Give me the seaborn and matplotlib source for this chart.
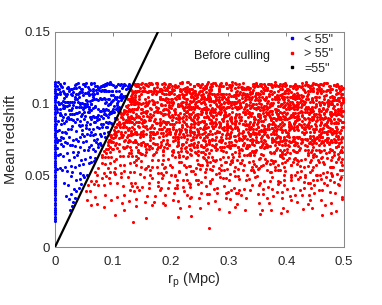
import numpy as np
import pandas as pd
import matplotlib
matplotlib.use("Agg")
import matplotlib.pyplot as plt
import seaborn as sns
from matplotlib.lines import Line2D

# r_p in units of 0.001 Mpc, mean redshift in units of 0.0005
red_rp = [
    152, 247, 389, 213, 466, 331, 278, 492, 185, 356,
    318, 171, 423, 264, 207, 447, 375, 139, 291, 401,
    236, 482, 163, 344, 419, 295, 258, 370, 198, 437,
    407, 222, 305, 144, 479, 363, 189, 252, 338, 461,
    274, 398, 156, 441, 229, 317, 486, 202, 383, 347,
    193, 361, 432, 283, 142, 496, 240, 326, 412, 268,
    455, 216, 349, 177, 302, 395, 261, 474, 148, 381,
    336, 287, 168, 426, 241, 379, 453, 199, 311, 225,
    208, 471, 392, 138, 357, 262, 434, 323, 184, 498,
    369, 251, 447, 301, 161, 415, 230, 342, 476, 276,
    182, 427, 313, 256, 488, 143, 365, 219, 399, 334,
    444, 298, 174, 385, 232, 459, 321, 158, 406, 270,
    245, 352, 478, 197, 413, 287, 141, 366, 306, 438,
    327, 166, 259, 493, 373, 211, 450, 284, 190, 402,
    418, 237, 345, 151, 297, 464, 388, 226, 333, 176,
    287, 145, 402, 233, 361, 479, 198, 316, 254, 437,
    172, 384, 269, 451, 137, 305, 226, 493, 348, 411,
    429, 262, 185, 337, 214, 468, 299, 153, 376, 243,
    351, 494, 220, 166, 413, 281, 445, 239, 324, 133,
    206, 327, 459, 390, 258, 175, 341, 421, 140, 283,
    468, 231, 314, 146, 372, 254, 197, 486, 403, 328,
    159, 417, 290, 363, 487, 218, 332, 267, 446, 181,
    393, 201, 356, 272, 149, 433, 310, 182, 457, 246,
    275, 343, 131, 476, 229, 398, 163, 355, 289, 420,
    441, 188, 264, 320, 396, 156, 482, 237, 211, 367,
    310, 460, 203, 139, 284, 352, 427, 193, 379, 248,
    177, 253, 405, 332, 465, 225, 296, 144, 418, 358,
    386, 134, 346, 438, 192, 270, 489, 313, 235, 161,
    222, 471, 169, 279, 338, 414, 251, 392, 150, 305,
    453, 308, 243, 191, 425, 135, 371, 265, 497, 216,
    338, 127, 259, 486, 392, 204, 445, 171, 313, 276,
    214, 462, 351, 148, 289, 407, 236, 375, 130, 494,
    401, 295, 182, 368, 447, 263, 138, 324, 219, 473,
    167, 348, 433, 223, 305, 491, 380, 196, 256, 415,
    452, 239, 126, 397, 331, 177, 284, 466, 362, 208,
    292, 419, 203, 478, 155, 342, 247, 386, 499, 136,
    381, 158, 317, 266, 424, 215, 470, 299, 187, 343,
    231, 364, 489, 142, 273, 437, 320, 200, 408, 158,
    479, 283, 374, 253, 192, 355, 129, 441, 226, 315,
    145, 410, 227, 336, 483, 268, 393, 162, 300, 457,
    367, 190, 444, 301, 240, 133, 412, 353, 278, 499,
    258, 326, 161, 429, 377, 482, 205, 244, 139, 391,
    416, 474, 293, 185, 222, 396, 346, 131, 459, 268,
    197, 245, 403, 357, 135, 311, 481, 270, 384, 218,
    328, 139, 261, 449, 406, 181, 234, 427, 310, 365,
    264, 413, 129, 357, 488, 206, 322, 441, 183, 295,
    376, 148, 239, 469, 301, 421, 192, 340, 257, 120,
    195, 329, 452, 271, 137, 386, 490, 218, 405, 312,
    438, 253, 166, 398, 224, 344, 278, 125, 463, 365,
    309, 481, 372, 142, 426, 262, 199, 355, 236, 417,
    151, 286, 397, 333, 472, 121, 249, 430, 314, 208,
    420, 176, 307, 243, 367, 458, 134, 285, 389, 496,
    228, 445, 269, 188, 318, 403, 360, 156, 477, 257,
    347, 212, 491, 419, 160, 290, 231, 382, 123, 436,
    482, 361, 140, 225, 411, 336, 447, 201, 273, 171,
    132, 394, 320, 457, 246, 179, 499, 288, 352, 414,
    290, 235, 466, 164, 383, 214, 315, 428, 144, 374,
    406, 317, 187, 281, 128, 474, 243, 348, 460, 197,
    255, 159, 434, 372, 299, 399, 127, 221, 330, 485,
    371, 493, 213, 136, 444, 262, 409, 175, 286, 340,
    198, 341, 467, 124, 283, 409, 235, 372, 156, 494,
    433, 265, 117, 386, 319, 208, 478, 149, 352, 241,
    305, 451, 227, 169, 398, 282, 135, 424, 361, 190,
    140, 378, 296, 443, 215, 487, 336, 252, 114, 415,
    397, 203, 359, 273, 462, 131, 248, 318, 439, 177,
    262, 485, 165, 334, 120, 421, 299, 197, 376, 448,
    476, 126, 412, 229, 351, 268, 453, 384, 183, 305,
    219, 313, 441, 153, 278, 366, 116, 490, 254, 407,
    355, 172, 257, 400, 495, 223, 337, 144, 431, 292,
    118, 428, 344, 490, 189, 306, 405, 270, 221, 365,
    416, 245, 135, 311, 369, 458, 209, 477, 328, 160,
    286, 390, 475, 212, 145, 262, 385, 329, 196, 437,
    157, 338, 234, 465, 419, 113, 353, 240, 473, 301,
    446, 276, 386, 128, 232, 395, 181, 314, 420, 248,
    329, 205, 158, 371, 458, 294, 427, 134, 263, 383,
    312, 164, 437, 251, 389, 108, 478, 226, 345, 193,
    227, 406, 132, 369, 291, 459, 183, 320, 497, 262,
    450, 297, 215, 121, 335, 418, 260, 382, 174, 499,
    146, 358, 486, 279, 203, 144, 397, 305, 431, 239,
    391, 240, 321, 468, 110, 273, 351, 192, 416, 289,
    279, 423, 171, 343, 445, 220, 128, 374, 258, 482,
    186, 312, 404, 235, 490, 363, 298, 141, 454, 332,
    465, 133, 267, 414, 181, 329, 236, 493, 387, 206,
    337, 482, 248, 155, 302, 440, 373, 270, 119, 413,
    122, 286, 379, 451, 224, 398, 167, 344, 285, 475,
    404, 209, 118, 326, 472, 257, 425, 213, 360, 151,
    257, 371, 439, 188, 350, 126, 307, 447, 195, 394,
    173, 461, 297, 383, 243, 490, 214, 136, 328, 427,
    375, 245, 154, 436, 311, 182, 463, 392, 270, 112,
    233, 381, 104, 459, 297, 170, 412, 326, 258, 488,
    418, 153, 342, 216, 476, 285, 393, 122, 364, 247,
    138, 305, 470, 389, 247, 427, 176, 283, 495, 204,
    361, 492, 226, 112, 334, 198, 451, 408, 268, 315,
    277, 185, 433, 356, 141, 379, 306, 233, 463, 117,
    482, 339, 261, 199, 414, 106, 348, 470, 180, 292,
    164, 435, 371, 302, 218, 486, 132, 257, 391, 442,
    325, 214, 118, 448, 384, 289, 237, 166, 418, 353,
    446, 271, 197, 337, 155, 462, 404, 316, 226, 109,
    205, 398, 476, 128, 291, 352, 241, 433, 148, 368,
    399, 126, 312, 247, 497, 184, 427, 361, 273, 210,
    251, 457, 158, 419, 343, 235, 102, 301, 480, 378,
    134, 317, 284, 487, 226, 405, 366, 192, 259, 440,
    472, 229, 407, 165, 376, 298, 145, 449, 335, 281,
    287, 140, 396, 223, 461, 332, 97, 375, 254, 419,
    172, 448, 309, 267, 118, 487, 213, 353, 405, 340,
    436, 246, 184, 397, 327, 157, 478, 289, 103, 366,
    311, 379, 462, 135, 238, 413, 346, 192, 497, 265,
    208, 115, 344, 441, 276, 368, 153, 427, 316, 479,
    390, 299, 229, 490, 169, 256, 412, 132, 358, 204,
    126, 471, 263, 352, 423, 193, 301, 386, 240, 445,
    467, 328, 153, 211, 384, 96, 449, 272, 186, 318,
    239, 403, 495, 296, 142, 338, 221, 458, 375, 110,
    348, 180, 421, 106, 325, 470, 285, 164, 433, 257,
    414, 262, 199, 383, 249, 147, 362, 493, 128, 303,
    165, 357, 276, 453, 482, 214, 124, 339, 401, 236,
    302, 496, 376, 173, 218, 430, 262, 101, 311, 457,
    198, 352, 117, 426, 271, 489, 305, 234, 390, 160,
    363, 246, 439, 182, 97, 318, 466, 287, 143, 405,
    275, 494, 208, 340, 414, 126, 256, 381, 457, 194,
    452, 130, 312, 267, 369, 222, 93, 428, 336, 479,
    121, 387, 471, 219, 293, 358, 441, 165, 248, 314,
    333, 205, 152, 490, 416, 277, 192, 347, 105, 432,
    407, 298, 365, 138, 231, 448, 326, 492, 266, 178,
    240, 461, 283, 398, 156, 100, 372, 213, 484, 345,
    176, 323, 420, 301, 462, 241, 135, 403, 357, 91,
    485, 149, 239, 375, 327, 393, 286, 111, 211, 436,
    302, 418, 97, 252, 184, 474, 447, 338, 383, 262,
    226, 366, 343, 444, 124, 212, 310, 259, 169, 497,
    312, 157, 448, 236, 95, 379, 270, 493, 193, 341,
    225, 401, 132, 357, 466, 289, 418, 176, 84, 318,
    437, 278, 366, 111, 205, 475, 149, 332, 252, 390,
    143, 489, 256, 424, 338, 187, 301, 457, 372, 100,
    354, 218, 92, 296, 392, 143, 478, 244, 411, 167,
    474, 330, 187, 406, 162, 259, 345, 123, 287, 443,
    261, 128, 413, 317, 483, 362, 213, 396, 99, 233,
    398, 444, 303, 174, 247, 432, 89, 280, 363, 496,
    186, 276, 469, 383, 120, 319, 234, 458, 151, 346,
    321, 379, 228, 495, 423, 108, 392, 202, 266, 140,
    286, 133, 421, 208, 359, 477, 92, 315, 248, 394,
    169, 443, 264, 381, 81, 327, 496, 221, 405, 141,
    402, 229, 337, 460, 187, 112, 276, 438, 353, 299,
    97, 367, 489, 155, 246, 415, 344, 290, 178, 451,
    333, 257, 118, 426, 304, 196, 462, 374, 86, 236,
    455, 186, 392, 274, 127, 342, 226, 483, 308, 413,
    214, 306, 471, 338, 433, 82, 167, 256, 389, 149,
    378, 480, 202, 106, 355, 271, 419, 140, 446, 323,
    144, 389, 261, 492, 215, 447, 318, 364, 102, 278,
    231, 378, 104, 452, 295, 167, 419, 340, 486, 263,
    412, 190, 327, 75, 248, 463, 356, 129, 288, 397,
    149, 466, 268, 385, 203, 320, 91, 441, 234, 497,
    359, 283, 437, 218, 481, 140, 306, 372, 177, 95,
    263, 120, 392, 311, 158, 424, 250, 479, 345, 214,
    478, 336, 185, 431, 365, 244, 113, 294, 408, 161,
    302, 447, 224, 137, 273, 398, 476, 199, 82, 353,
    188, 254, 494, 347, 409, 87, 226, 322, 457, 381,
    178, 326, 453, 102, 269, 397, 214, 488, 343, 137,
    366, 243, 69, 415, 310, 156, 478, 287, 192, 432,
    452, 120, 298, 373, 227, 493, 165, 339, 84, 259,
    215, 408, 184, 272, 459, 96, 352, 426, 303, 381,
    317, 470, 386, 147, 201, 284, 441, 73, 239, 164,
    104, 292, 235, 479, 390, 332, 130, 250, 418, 463,
    398, 187, 344, 261, 115, 444, 279, 372, 496, 208,
    247, 409, 132, 336, 480, 198, 291, 63, 375, 446,
    154, 362, 271, 437, 93, 316, 222, 495, 408, 179,
    430, 82, 207, 301, 385, 468, 139, 259, 330, 493,
    319, 231, 476, 114, 253, 397, 350, 185, 71, 424,
    88, 453, 346, 269, 163, 228, 421, 389, 296, 126,
    372, 286, 167, 482, 433, 108, 244, 311, 460, 211,
    196, 341, 457, 118, 268, 402, 74, 310, 489, 233,
    385, 163, 292, 424, 57, 354, 211, 470, 142, 327,
    275, 448, 96, 368, 207, 492, 318, 247, 431, 179,
    134, 304, 412, 233, 376, 151, 466, 85, 281, 396,
    441, 222, 353, 184, 129, 443, 262, 359, 211, 67,
    229, 384, 108, 317, 462, 173, 280, 415, 61, 351,
    137, 439, 253, 496, 206, 338, 87, 393, 267, 160,
    406, 295, 182, 359, 120, 475, 236, 53, 322, 448,
    313, 70, 427, 223, 378, 263, 145, 484, 191, 300,
    156, 302, 438, 97, 249, 371, 205, 478, 331, 128,
    392, 186, 56, 315, 460, 234, 419, 140, 277, 353,
    264, 441, 367, 213, 116, 497, 72, 296, 171, 409,
    283, 141, 402, 216, 467, 329, 84, 373, 190, 445,
    167, 358, 251, 486, 312, 62, 429, 232, 395, 120,
    235, 391, 158, 462, 301, 104, 355, 213, 478, 135,
    266,
    196, 342, 417, 158, 283, 469, 229, 374, 311, 490,
    263, 147, 398, 327, 441, 208, 354, 172, 483, 240,
    429, 302, 188, 255, 360, 137, 475, 217, 392, 336,
    348, 456, 271, 412, 165, 323, 248, 435, 203, 389,
    154, 380, 233, 495, 296, 416, 181, 345, 270, 461,
    306, 219, 452, 176, 403, 261, 367, 143, 427, 285,
    318, 175, 436, 249, 392, 131, 287, 463, 214, 359,
    142, 411, 266, 335, 488, 197, 373, 236, 454, 301,
    380, 228, 497, 163, 310, 447, 256, 402, 185, 332,
    473, 291, 347, 420, 138, 267, 199, 365, 313, 241,
    224, 359, 152, 282, 431, 341, 476, 168, 398, 277,
    409, 134, 315, 206, 371, 494, 242, 326, 444, 180,
    267, 412, 153, 339, 479, 221, 386, 132, 302, 445,
    395, 244, 328, 171, 426, 283, 492, 353, 210, 137,
    184, 466, 297, 422, 257, 363, 129, 238, 488, 314,
    341, 200, 451, 275, 388, 146, 331, 473, 169, 412,
    456, 318, 229, 137, 293, 434, 372, 194, 347, 252,
    226, 375, 498, 306, 161, 249, 418, 282, 138, 397,
    352, 197, 468, 284, 126, 403, 241, 330, 489, 175,
    219, 432, 143, 376, 297, 471, 185, 262, 405, 338,
    457, 316, 254, 190, 442, 123, 366, 479, 228, 293,
    137, 381, 425, 327, 212, 270, 449, 158, 359, 495,
    288, 246, 361, 463, 170, 339, 120, 418, 203, 384,
    414, 159, 305, 232, 385, 494, 276, 351, 131, 451,
    243, 389, 127, 456, 312, 178, 421, 268, 354, 491,
    402, 166, 287, 215, 477, 339, 119, 444, 253, 370,
    131, 448, 363, 294, 199, 412, 246, 152, 485, 321,
    325, 274, 481, 145, 392, 232, 466, 303, 187, 428,
    467, 207, 334, 408, 261, 115, 379, 227, 436, 162,
    188, 355, 239, 497, 141, 293, 413, 351, 274, 216,
    283, 137, 397, 221, 459, 346, 176, 492, 312, 248,
    163, 423, 305, 381, 110, 268, 447, 199, 356, 471,
    369, 254, 478, 148, 331, 203, 415, 290, 124, 438,
    441, 318, 190, 467, 237, 389, 153, 343, 276, 108,
    226, 487, 352, 272, 402, 129, 298, 461, 181, 325,
    313, 182, 432, 117, 285, 496, 240, 378, 419, 154,
    198, 352, 466, 273, 121, 409, 316, 234, 487, 159,
    437, 281, 143, 393, 225, 356, 104, 462, 311, 256,
    305, 172, 421, 498, 359, 264, 193, 385, 137, 448,
    153, 404, 336, 209, 473, 115, 376, 283, 430, 241,
    382, 246, 188, 330, 443, 297, 477, 126, 219, 364,
    259, 469, 292, 414, 166, 338, 216, 452, 369, 106,
    347, 208, 425, 132, 289, 481, 251, 374, 170, 446,
    266, 453, 318, 399, 186, 97, 431, 229, 367, 490,
    412, 151, 244, 335, 470, 379, 116, 297, 441, 213,
    176, 389, 487, 258, 115, 322, 403, 193, 279, 362,
    473, 303, 382, 223, 346, 458, 164, 419, 102, 271,
    234, 128, 337, 462, 397, 207, 296, 489, 324, 147,
    279, 412, 163, 348, 226, 457, 104, 385, 301, 492,
    141, 326, 471, 245, 398, 183, 357, 436, 92, 267,
    364, 475, 212, 129, 306, 409, 262, 186, 447, 333,
    428, 197, 294, 381, 463, 252, 138, 317, 236, 404,
    213, 359, 441, 173, 95, 341, 486, 272, 378, 155,
    486, 258, 120, 416, 335, 220, 393, 149, 289, 463,
    227, 384, 131, 452, 306, 189, 417, 263, 95, 348,
    401, 158, 276, 335, 479, 242, 119, 373, 204, 461,
    172, 437, 342, 218, 392, 88, 290, 486, 324, 147,
]
red_z = [
    223, 227, 220, 225, 229, 221, 226, 222, 228, 224,
    228, 222, 225, 230, 226, 229, 223, 227, 224, 221,
    221, 226, 229, 224, 222, 227, 220, 228, 223, 225,
    225, 220, 223, 228, 221, 224, 229, 226, 222, 227,
    229, 224, 227, 222, 230, 223, 225, 221, 226, 228,
    222, 228, 226, 221, 227, 220, 224, 229, 225, 223,
    226, 221, 224, 229, 223, 228, 222, 225, 227, 230,
    220, 225, 228, 223, 224, 226, 221, 227, 229, 222,
    224, 229, 221, 226, 228, 225, 227, 223, 220, 222,
    227, 223, 222, 226, 225, 228, 230, 224, 221, 229,
    221, 225, 228, 222, 227, 224, 220, 229, 226, 223,
    226, 222, 229, 224, 221, 227, 223, 228, 225, 220,
    228, 224, 221, 227, 223, 229, 225, 222, 230, 226,
    222, 229, 225, 220, 226, 223, 228, 224, 227, 221,
    225, 221, 227, 229, 222, 226, 224, 220, 223, 228,
    213, 217, 210, 215, 219, 211, 216, 212, 218, 214,
    218, 212, 215, 210, 216, 219, 213, 217, 214, 211,
    211, 216, 219, 214, 212, 217, 210, 218, 213, 215,
    215, 210, 213, 218, 211, 214, 219, 216, 212, 217,
    219, 214, 217, 212, 210, 213, 215, 211, 216, 218,
    212, 218, 216, 211, 217, 210, 214, 219, 215, 213,
    216, 211, 214, 219, 213, 218, 212, 215, 217, 210,
    210, 215, 218, 213, 214, 216, 211, 217, 219, 212,
    214, 219, 211, 216, 218, 215, 217, 213, 210, 212,
    217, 213, 212, 216, 215, 218, 210, 214, 211, 219,
    211, 215, 218, 212, 217, 214, 210, 219, 216, 213,
    216, 212, 219, 214, 211, 217, 213, 218, 215, 210,
    218, 214, 211, 217, 213, 219, 215, 212, 210, 216,
    212, 219, 215, 210, 216, 213, 218, 214, 217, 211,
    215, 211, 217, 219, 212, 216, 214, 210, 213, 218,
    203, 207, 200, 205, 209, 201, 206, 202, 208, 204,
    208, 202, 205, 200, 206, 209, 203, 207, 204, 201,
    201, 206, 209, 204, 202, 207, 200, 208, 203, 205,
    205, 200, 203, 208, 201, 204, 209, 206, 202, 207,
    209, 204, 207, 202, 200, 203, 205, 201, 206, 208,
    202, 208, 206, 201, 207, 200, 204, 209, 205, 203,
    206, 201, 204, 209, 203, 208, 202, 205, 207, 200,
    200, 205, 208, 203, 204, 206, 201, 207, 209, 202,
    204, 209, 201, 206, 208, 205, 207, 203, 200, 202,
    207, 203, 202, 206, 205, 208, 200, 204, 201, 209,
    201, 205, 208, 202, 207, 204, 200, 209, 206, 203,
    206, 202, 209, 204, 201, 207, 203, 208, 205, 200,
    208, 204, 201, 207, 203, 209, 205, 202, 200, 206,
    202, 209, 205, 200, 206, 203, 208, 204, 207, 201,
    205, 201, 207, 209, 202, 206, 204, 200, 203, 208,
    193, 197, 190, 195, 199, 191, 196, 192, 198, 194,
    198, 192, 195, 190, 196, 199, 193, 197, 194, 191,
    191, 196, 199, 194, 192, 197, 190, 198, 193, 195,
    195, 190, 193, 198, 191, 194, 199, 196, 192, 197,
    199, 194, 197, 192, 190, 193, 195, 191, 196, 198,
    192, 198, 196, 191, 197, 190, 194, 199, 195, 193,
    196, 191, 194, 199, 193, 198, 192, 195, 197, 190,
    190, 195, 198, 193, 194, 196, 191, 197, 199, 192,
    194, 199, 191, 196, 198, 195, 197, 193, 190, 192,
    197, 193, 192, 196, 195, 198, 190, 194, 191, 199,
    191, 195, 198, 192, 197, 194, 190, 199, 196, 193,
    196, 192, 199, 194, 191, 197, 193, 198, 195, 190,
    198, 194, 191, 197, 193, 199, 195, 192, 190, 196,
    192, 199, 195, 190, 196, 193, 198, 194, 197, 191,
    195, 191, 197, 199, 192, 196, 194, 190, 193, 198,
    183, 187, 180, 185, 189, 181, 186, 182, 188, 184,
    188, 182, 185, 180, 186, 189, 183, 187, 184, 181,
    181, 186, 189, 184, 182, 187, 180, 188, 183, 185,
    185, 180, 183, 188, 181, 184, 189, 186, 182, 187,
    189, 184, 187, 182, 180, 183, 185, 181, 186, 188,
    182, 188, 186, 181, 187, 180, 184, 189, 185, 183,
    186, 181, 184, 189, 183, 188, 182, 185, 187, 180,
    180, 185, 188, 183, 184, 186, 181, 187, 189, 182,
    184, 189, 181, 186, 188, 185, 187, 183, 180, 182,
    187, 183, 182, 186, 185, 188, 180, 184, 181, 189,
    181, 185, 188, 182, 187, 184, 180, 189, 186, 183,
    186, 182, 189, 184, 181, 187, 183, 188, 185, 180,
    188, 184, 181, 187, 183, 189, 185, 182, 180, 186,
    182, 189, 185, 180, 186, 183, 188, 184, 187, 181,
    185, 181, 187, 189, 182, 186, 184, 180, 183, 188,
    173, 177, 170, 175, 179, 171, 176, 172, 178, 174,
    178, 172, 175, 170, 176, 179, 173, 177, 174, 171,
    171, 176, 179, 174, 172, 177, 170, 178, 173, 175,
    175, 170, 173, 178, 171, 174, 179, 176, 172, 177,
    179, 174, 177, 172, 170, 173, 175, 171, 176, 178,
    172, 178, 176, 171, 177, 170, 174, 179, 175, 173,
    176, 171, 174, 179, 173, 178, 172, 175, 177, 170,
    170, 175, 178, 173, 174, 176, 171, 177, 179, 172,
    174, 179, 171, 176, 178, 175, 177, 173, 170, 172,
    177, 173, 172, 176, 175, 178, 170, 174, 171, 179,
    171, 175, 178, 172, 177, 174, 170, 179, 176, 173,
    176, 172, 179, 174, 171, 177, 173, 178, 175, 170,
    178, 174, 171, 177, 173, 179, 175, 172, 170, 176,
    172, 179, 175, 170, 176, 173, 178, 174, 177, 171,
    163, 167, 160, 165, 169, 161, 166, 162, 168, 164,
    168, 162, 165, 160, 166, 169, 163, 167, 164, 161,
    161, 166, 169, 164, 162, 167, 160, 168, 163, 165,
    165, 160, 163, 168, 161, 164, 169, 166, 162, 167,
    169, 164, 167, 162, 160, 163, 165, 161, 166, 168,
    162, 168, 166, 161, 167, 160, 164, 169, 165, 163,
    166, 161, 164, 169, 163, 168, 162, 165, 167, 160,
    160, 165, 168, 163, 164, 166, 161, 167, 169, 162,
    164, 169, 161, 166, 168, 165, 167, 163, 160, 162,
    167, 163, 162, 166, 165, 168, 160, 164, 161, 169,
    161, 165, 168, 162, 167, 164, 160, 169, 166, 163,
    166, 162, 169, 164, 161, 167, 163, 168, 165, 160,
    168, 164, 161, 167, 163, 169, 165, 162, 160, 166,
    162, 169, 165, 160, 166, 163, 168, 164, 167, 161,
    153, 157, 150, 155, 159, 151, 156, 152, 158, 154,
    158, 152, 155, 150, 156, 159, 153, 157, 154, 151,
    151, 156, 159, 154, 152, 157, 150, 158, 153, 155,
    155, 150, 153, 158, 151, 154, 159, 156, 152, 157,
    159, 154, 157, 152, 150, 153, 155, 151, 156, 158,
    152, 158, 156, 151, 157, 150, 154, 159, 155, 153,
    156, 151, 154, 159, 153, 158, 152, 155, 157, 150,
    150, 155, 158, 153, 154, 156, 151, 157, 159, 152,
    154, 159, 151, 156, 158, 155, 157, 153, 150, 152,
    157, 153, 152, 156, 155, 158, 150, 154, 151, 159,
    151, 155, 158, 152, 157, 154, 150, 159, 156, 153,
    156, 152, 159, 154, 151, 157, 153, 158, 155, 150,
    158, 154, 151, 157, 153, 159, 155, 152, 150, 156,
    143, 147, 140, 145, 149, 141, 146, 142, 148, 144,
    148, 142, 145, 140, 146, 149, 143, 147, 144, 141,
    141, 146, 149, 144, 142, 147, 140, 148, 143, 145,
    145, 140, 143, 148, 141, 144, 149, 146, 142, 147,
    149, 144, 147, 142, 140, 143, 145, 141, 146, 148,
    142, 148, 146, 141, 147, 140, 144, 149, 145, 143,
    146, 141, 144, 149, 143, 148, 142, 145, 147, 140,
    140, 145, 148, 143, 144, 146, 141, 147, 149, 142,
    144, 149, 141, 146, 148, 145, 147, 143, 140, 142,
    147, 143, 142, 146, 145, 148, 140, 144, 141, 149,
    141, 145, 148, 142, 147, 144, 140, 149, 146, 143,
    146, 142, 149, 144, 141, 147, 143, 148, 145, 140,
    133, 137, 130, 135, 139, 131, 136, 132, 138, 134,
    138, 132, 135, 130, 136, 139, 133, 137, 134, 131,
    131, 136, 139, 134, 132, 137, 130, 138, 133, 135,
    135, 130, 133, 138, 131, 134, 139, 136, 132, 137,
    139, 134, 137, 132, 130, 133, 135, 131, 136, 138,
    132, 138, 136, 131, 137, 130, 134, 139, 135, 133,
    136, 131, 134, 139, 133, 138, 132, 135, 137, 130,
    130, 135, 138, 133, 134, 136, 131, 137, 139, 132,
    134, 139, 131, 136, 138, 135, 137, 133, 130, 132,
    137, 133, 132, 136, 135, 138, 130, 134, 131, 139,
    123, 127, 120, 125, 129, 121, 126, 122, 128, 124,
    128, 122, 125, 120, 126, 129, 123, 127, 124, 121,
    121, 126, 129, 124, 122, 127, 120, 128, 123, 125,
    125, 120, 123, 128, 121, 124, 129, 126, 122, 127,
    129, 124, 127, 122, 120, 123, 125, 121, 126, 128,
    122, 128, 126, 121, 127, 120, 124, 129, 125, 123,
    126, 121, 124, 129, 123, 128, 122, 125, 127, 120,
    120, 125, 128, 123, 124, 126, 121, 127, 129, 122,
    124, 129, 121, 126, 128, 125, 127, 123, 120, 122,
    113, 117, 110, 115, 119, 111, 116, 112, 118, 114,
    118, 112, 115, 110, 116, 119, 113, 117, 114, 111,
    111, 116, 119, 114, 112, 117, 110, 118, 113, 115,
    115, 110, 113, 118, 111, 114, 119, 116, 112, 117,
    119, 114, 117, 112, 110, 113, 115, 111, 116, 118,
    112, 118, 116, 111, 117, 110, 114, 119, 115, 113,
    116, 111, 114, 119, 113, 118, 112, 115, 117, 110,
    110, 115, 118, 113, 114, 116, 111, 117, 119, 112,
    103, 107, 100, 105, 109, 101, 106, 102, 108, 104,
    108, 102, 105, 100, 106, 109, 103, 107, 104, 101,
    101, 106, 109, 104, 102, 107, 100, 108, 103, 105,
    105, 100, 103, 108, 101, 104, 109, 106, 102, 107,
    109, 104, 107, 102, 100, 103, 105, 101, 106, 108,
    102, 108, 106, 101, 107, 100, 104, 109, 105, 103,
    106, 101, 104, 109, 103, 108, 102, 105, 107, 100,
    93, 97, 90, 95, 99, 91, 96, 92, 98, 94,
    98, 92, 95, 90, 96, 99, 93, 97, 94, 91,
    91, 96, 99, 94, 92, 97, 90, 98, 93, 95,
    95, 90, 93, 98, 91, 94, 99, 96, 92, 97,
    99, 94, 97, 92, 90, 93, 95, 91, 96, 98,
    92, 98, 96, 91, 97, 90, 94, 99, 95, 93,
    83, 87, 80, 85, 89, 81, 86, 82, 88, 84,
    88, 82, 85, 80, 86, 89, 83, 87, 84, 81,
    81, 86, 89, 84, 82, 87, 80, 88, 83, 85,
    85, 80, 83, 88, 81, 84, 89, 86, 82, 87,
    89, 84, 87, 82, 80, 83, 85, 81, 86, 88,
    73, 77, 70, 75, 79, 71, 76, 72, 78, 74,
    78, 72, 75, 70, 76, 79, 73, 77, 74, 71,
    71, 76, 79, 74, 72, 77, 70, 78, 73, 75,
    75, 70, 73, 78, 71, 74, 79, 76, 72, 77,
    63, 67, 60, 65, 69, 61, 66, 62, 68, 64,
    68, 62, 65, 60, 66, 69, 63, 67, 64, 61,
    61, 66, 69, 64, 62, 67, 60, 68, 63, 65,
    53, 57, 50, 55, 59, 51, 56, 52, 58, 54,
    58, 52, 55, 50, 56, 59, 53, 57, 54, 51,
    43, 47, 41, 45, 49, 44, 46, 42, 48, 35,
    26,
    224, 228, 221, 226, 220, 229, 223, 227, 222, 225,
    227, 222, 229, 220, 225, 223, 228, 221, 226, 224,
    220, 226, 223, 228, 222, 227, 224, 229, 225, 221,
    229, 223, 225, 222, 227, 221, 226, 230, 224, 228,
    222, 225, 227, 224, 229, 226, 220, 223, 228, 221,
    226, 230, 228, 223, 221, 224, 222, 225, 229, 227,
    214, 218, 211, 216, 210, 219, 213, 217, 212, 215,
    217, 212, 219, 210, 215, 213, 218, 211, 216, 214,
    210, 216, 213, 218, 212, 217, 214, 219, 215, 211,
    219, 213, 215, 212, 217, 211, 216, 210, 214, 218,
    212, 215, 217, 214, 219, 216, 210, 213, 218, 211,
    216, 210, 218, 213, 211, 214, 212, 215, 219, 217,
    204, 208, 201, 206, 200, 209, 203, 207, 202, 205,
    207, 202, 209, 200, 205, 203, 208, 201, 206, 204,
    200, 206, 203, 208, 202, 207, 204, 209, 205, 201,
    209, 203, 205, 202, 207, 201, 206, 200, 204, 208,
    202, 205, 207, 204, 209, 206, 200, 203, 208, 201,
    206, 200, 208, 203, 201, 204, 202, 205, 209, 207,
    194, 198, 191, 196, 190, 199, 193, 197, 192, 195,
    197, 192, 199, 190, 195, 193, 198, 191, 196, 194,
    190, 196, 193, 198, 192, 197, 194, 199, 195, 191,
    199, 193, 195, 192, 197, 191, 196, 190, 194, 198,
    192, 195, 197, 194, 199, 196, 190, 193, 198, 191,
    196, 190, 198, 193, 191, 194, 192, 195, 199, 197,
    184, 188, 181, 186, 180, 189, 183, 187, 182, 185,
    187, 182, 189, 180, 185, 183, 188, 181, 186, 184,
    180, 186, 183, 188, 182, 187, 184, 189, 185, 181,
    189, 183, 185, 182, 187, 181, 186, 180, 184, 188,
    182, 185, 187, 184, 189, 186, 180, 183, 188, 181,
    186, 180, 188, 183, 181, 184, 182, 185, 189, 187,
    174, 178, 171, 176, 170, 179, 173, 177, 172, 175,
    177, 172, 179, 170, 175, 173, 178, 171, 176, 174,
    170, 176, 173, 178, 172, 177, 174, 179, 175, 171,
    179, 173, 175, 172, 177, 171, 176, 170, 174, 178,
    172, 175, 177, 174, 179, 176, 170, 173, 178, 171,
    176, 170, 178, 173, 171, 174, 172, 175, 179, 177,
    164, 168, 161, 166, 160, 169, 163, 167, 162, 165,
    167, 162, 169, 160, 165, 163, 168, 161, 166, 164,
    160, 166, 163, 168, 162, 167, 164, 169, 165, 161,
    169, 163, 165, 162, 167, 161, 166, 160, 164, 168,
    162, 165, 167, 164, 169, 166, 160, 163, 168, 161,
    166, 160, 168, 163, 161, 164, 162, 165, 169, 167,
    154, 158, 151, 156, 150, 159, 153, 157, 152, 155,
    157, 152, 159, 150, 155, 153, 158, 151, 156, 154,
    150, 156, 153, 158, 152, 157, 154, 159, 155, 151,
    159, 153, 155, 152, 157, 151, 156, 150, 154, 158,
    152, 155, 157, 154, 159, 156, 150, 153, 158, 151,
    156, 150, 158, 153, 151, 154, 152, 155, 159, 157,
    144, 148, 141, 146, 140, 149, 143, 147, 142, 145,
    147, 142, 149, 140, 145, 143, 148, 141, 146, 144,
    140, 146, 143, 148, 142, 147, 144, 149, 145, 141,
    149, 143, 145, 142, 147, 141, 146, 140, 144, 148,
    142, 145, 147, 144, 149, 146, 140, 143, 148, 141,
    146, 140, 148, 143, 141, 144, 142, 145, 149, 147,
    134, 138, 131, 136, 130, 139, 133, 137, 132, 135,
    137, 132, 139, 130, 135, 133, 138, 131, 136, 134,
    130, 136, 133, 138, 132, 137, 134, 139, 135, 131,
]

blue_rp = [
    12, 87, 45, 118, 63, 29, 101, 74, 8, 126,
    93, 37, 70, 5, 112, 54, 22, 128, 81, 46,
    58, 121, 16, 84, 33, 97, 66, 109, 41, 3,
    105, 27, 78, 51, 123, 10, 90, 35, 116, 62,
    39, 72, 114, 20, 96, 57, 129, 6, 83, 48,
    52, 119, 24, 88, 7, 67, 104, 36, 127, 79,
    68, 14, 103, 42, 85, 121, 31, 59, 110, 3,
    25, 97, 52, 117, 9, 76, 40, 89, 64, 113,
    118, 47, 82, 21, 66, 106, 1, 94, 36, 72,
    55, 108, 28, 91, 122, 17, 61, 43, 100, 80,
    86, 4, 65, 49, 34, 115, 73, 19, 57, 98,
    99, 30, 71, 112, 16, 58, 85, 122, 44, 8,
    33, 91, 7, 64, 112, 46, 79, 18, 103, 55,
    84, 26, 115, 50, 71, 2, 97, 38, 60, 108,
    11, 68, 41, 99, 23, 86, 56, 116, 30, 75,
    101, 52, 89, 15, 44, 109, 66, 81, 5, 35,
    62, 106, 20, 77, 40, 94, 13, 113, 53, 86,
    74, 20, 98, 45, 7, 86, 59, 110, 32, 66,
    13, 105, 52, 80, 37, 94, 3, 70, 108, 27,
    91, 41, 62, 16, 101, 55, 84, 24, 48, 111,
    36, 77, 9, 107, 63, 29, 95, 50, 88, 18,
    44, 83, 2, 58, 102, 25, 70, 109, 14, 92,
    52, 9, 83, 30, 100, 67, 18, 91, 42, 75,
    96, 61, 26, 104, 47, 4, 79, 36, 88, 14,
    22, 86, 58, 11, 72, 38, 103, 50, 65, 93,
    71, 33, 97, 8, 57, 84, 20, 45, 102, 63,
    15, 72, 41, 94, 28, 60, 6, 83, 50, 35,
    63, 2, 88, 46, 19, 76, 97, 31, 55, 10,
    80, 44, 24, 67, 99, 12, 53, 38, 91, 70,
    47, 81, 12, 65, 30, 92, 54, 3, 73, 22,
    88, 37, 58, 18, 76, 44, 7, 90, 27, 62,
    25, 69, 8, 51, 84, 36, 60, 14, 77, 43,
    56, 2, 80, 31, 66, 19, 86, 46, 10, 73,
    63, 17, 44, 78, 5, 35, 71, 26, 54, 11,
    39, 80, 21, 58, 3, 67, 30, 49, 75, 14,
    31, 66, 9, 50, 74, 20, 57, 40, 3, 70,
    52, 14, 67, 33, 5, 45, 61, 24, 38, 69,
    27, 58, 9, 41, 63, 18, 49, 35,
    44, 12, 55, 30, 3, 48, 21,
    36, 50, 15, 43, 27,
    41, 22, 33, 45,
    28, 37, 19,
    31, 24, 35,
    26, 30,
]
blue_z = [
    223, 227, 220, 225, 229, 221, 226, 222, 228, 224,
    228, 222, 225, 230, 226, 229, 223, 227, 224, 221,
    221, 226, 229, 224, 222, 227, 220, 228, 223, 225,
    225, 220, 223, 228, 221, 224, 229, 226, 222, 227,
    229, 224, 227, 222, 230, 223, 225, 221, 226, 228,
    224, 228, 221, 226, 220, 229, 223, 227, 222, 225,
    213, 217, 210, 215, 219, 211, 216, 212, 218, 214,
    218, 212, 215, 210, 216, 219, 213, 217, 214, 211,
    211, 216, 219, 214, 212, 217, 210, 218, 213, 215,
    215, 210, 213, 218, 211, 214, 219, 216, 212, 217,
    219, 214, 217, 212, 210, 213, 215, 211, 216, 218,
    217, 212, 219, 210, 215, 213, 218, 211, 216, 214,
    203, 207, 200, 205, 209, 201, 206, 202, 208, 204,
    208, 202, 205, 200, 206, 209, 203, 207, 204, 201,
    201, 206, 209, 204, 202, 207, 200, 208, 203, 205,
    205, 200, 203, 208, 201, 204, 209, 206, 202, 207,
    200, 206, 203, 208, 202, 207, 204, 209, 205, 201,
    193, 197, 190, 195, 199, 191, 196, 192, 198, 194,
    198, 192, 195, 190, 196, 199, 193, 197, 194, 191,
    191, 196, 199, 194, 192, 197, 190, 198, 193, 195,
    195, 190, 193, 198, 191, 194, 199, 196, 192, 197,
    199, 193, 195, 192, 197, 191, 196, 190, 194, 198,
    183, 187, 180, 185, 189, 181, 186, 182, 188, 184,
    188, 182, 185, 180, 186, 189, 183, 187, 184, 181,
    181, 186, 189, 184, 182, 187, 180, 188, 183, 185,
    182, 185, 187, 184, 189, 186, 180, 183, 188, 181,
    173, 177, 170, 175, 179, 171, 176, 172, 178, 174,
    178, 172, 175, 170, 176, 179, 173, 177, 174, 171,
    171, 176, 179, 174, 172, 177, 170, 178, 173, 175,
    163, 167, 160, 165, 169, 161, 166, 162, 168, 164,
    168, 162, 165, 160, 166, 169, 163, 167, 164, 161,
    153, 157, 150, 155, 159, 151, 156, 152, 158, 154,
    158, 152, 155, 150, 156, 159, 153, 157, 154, 151,
    143, 147, 140, 145, 149, 141, 146, 142, 148, 144,
    148, 142, 145, 140, 146, 149, 143, 147, 144, 141,
    133, 137, 130, 135, 139, 131, 136, 132, 138, 134,
    123, 127, 120, 125, 129, 121, 126, 122, 128, 124,
    113, 117, 110, 115, 119, 111, 116, 112,
    103, 107, 100, 105, 109, 101, 106,
    93, 97, 90, 95, 99,
    83, 87, 81, 88,
    74, 78, 71,
    63, 67, 69,
    52, 57,
]

# blue pairs lying on r_p = 0
edge_rp = 0
edge_z = [
    36, 39, 42, 46, 49, 52, 55, 59, 62, 65, 68, 72, 75, 78, 81, 85,
    88, 91, 94, 98, 101, 104, 107, 111, 114, 117, 120, 124, 127, 130,
    133, 137, 140, 143, 146, 150, 153, 156, 159, 163, 166, 169, 172,
    176, 179, 182, 185, 189, 192, 195, 198, 202, 205, 208, 211, 215,
    218, 221, 224, 228, 230,
]

# separation equal to 55 arcsec
line_rp = [0.0, 0.178]
line_z = [0.0, 0.15]

legend_labels = ['< 55"', '> 55"', '=55"']
xticks = [0, 0.1, 0.2, 0.3, 0.4, 0.5]
yticks = [0, 0.05, 0.1, 0.15]

sns.set_style("white")
plt.rcParams['font.family'] = ['Liberation Sans', 'DejaVu Sans']
plt.rcParams['mathtext.default'] = 'regular'

n = min(len(red_rp), len(red_z))
red = pd.DataFrame({"rp": np.array(red_rp[:n]) / 1000,
                    "z": np.array(red_z[:n]) / 2000})
m = min(len(blue_rp), len(blue_z))
blue = pd.DataFrame({
    "rp": np.concatenate([np.array(blue_rp[:m]) / 1000,
                          np.full(len(edge_z), edge_rp / 1000)]),
    "z": np.concatenate([blue_z[:m], edge_z]) / 2000,
})

fig = plt.figure(figsize=(3.82, 3.05), dpi=100)
ax = fig.add_axes([55 / 382, 58 / 305, 289 / 382, 215 / 305])

sns.scatterplot(data=red, x="rp", y="z", color="#ff0000", marker="o",
                s=5, linewidth=0, ax=ax, zorder=3)
sns.scatterplot(data=blue, x="rp", y="z", color="#0000ff", marker="o",
                s=5, linewidth=0, ax=ax, zorder=3, clip_on=False)
sns.lineplot(x=line_rp, y=line_z, color="black", linewidth=1.6, ax=ax, zorder=4)

ax.set_xlim(0, 0.5)
ax.set_ylim(0, 0.15)
ax.set_xticks(xticks)
ax.set_xticklabels([f"{t:g}" for t in xticks])
ax.set_yticks(yticks)
ax.set_yticklabels([f"{t:g}" for t in yticks])
ax.tick_params(direction="in", length=3, width=0.6, top=True, right=True,
               color="#6e6e6e", labelcolor="#262626", labelsize=9.5)
ax.tick_params(axis="x", pad=6.5)
ax.tick_params(axis="y", pad=3.6)
for sp in ax.spines.values():
    sp.set_color("#8a8a8a")
    sp.set_linewidth(0.75)

ax.set_xlabel(r"r$_{p}$ (Mpc)", fontsize=10.5, color="#262626")
ax.set_ylabel("Mean redshift", fontsize=10.5, color="#262626")
ax.xaxis.set_label_coords(0.481, -0.112)
ax.yaxis.set_label_coords(-0.128, 0.5)

handles = [Line2D([], [], ls="none", marker="s", ms=1.8, mfc=c, mec=c)
           for c in ["#0000ff", "#ff0000", "black"]]
ax.legend(handles, legend_labels, loc="upper left", bbox_to_anchor=(0.803, 0.993),
          frameon=False, fontsize=9, handlelength=0.8, handletextpad=0.55,
          labelspacing=0.2, borderpad=0, borderaxespad=0)
ax.text(0.481, 0.888, "Before culling", transform=ax.transAxes, fontsize=9,
        ha="left", va="center", color="#1a1a1a")

fig.savefig("out.png", dpi=100)
